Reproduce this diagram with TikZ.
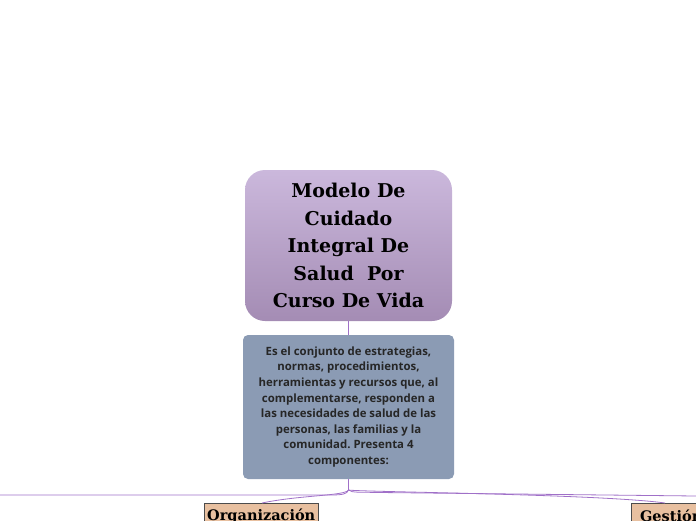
\documentclass[tikz,border=0pt]{standalone}
\usepackage{fontspec}
\setmainfont{DejaVu Serif}
\newfontfamily\bodyfont{Open Sans}
\usetikzlibrary{arrows.meta}
\frenchspacing

\definecolor{lilatop}{RGB}{203,184,220}
\definecolor{lilabottom}{RGB}{164,140,180}
\definecolor{grisazul}{RGB}{139,155,180}
\definecolor{durazno}{RGB}{232,192,160}
\definecolor{ramal}{RGB}{160,112,200}

\tikzset{
  titlebox/.style={rounded corners=20pt, top color=lilatop, bottom color=lilabottom,
    minimum width=207pt, minimum height=151pt, align=center,
    font=\fontsize{19}{27.5}\selectfont\bfseries},
  descbox/.style={rounded corners=5pt, fill=grisazul, minimum width=211pt,
    minimum height=144pt, align=center, text=black!85,
    font=\bodyfont\fontsize{11.4}{15.6}\selectfont\bfseries},
  compbox/.style={draw=black!70, fill=durazno, anchor=north west, minimum height=26pt,
    inner sep=3pt, font=\fontsize{14.5}{18}\selectfont\bfseries},
  rama/.style={draw=ramal, line width=0.8pt}
}

\begin{document}
\begin{tikzpicture}[x=1pt,y=-1pt]
  \useasboundingbox (0,0) rectangle (696,520);

  % central topic
  \node[titlebox] (modelo) at (348.5,245.5)
    {Modelo De\\Cuidado\\Integral De\\Salud~ Por\\Curso De Vida};

  % description
  \node[descbox] (concepto) at (348.5,407)
    {Es el conjunto de estrategias,\\normas, procedimientos,\\herramientas y recursos que, al\\complementarse, responden a\\las necesidades de salud de las\\personas, las familias y la\\comunidad. Presenta 4\\componentes:};

  % components
  \node[compbox, minimum width=113pt] (organizacion) at (204,503) {Organización};
  \node[compbox, minimum width=80pt] (gestion) at (631,503) {Gestión};

  \coordinate (nudo) at (348.5,490);
  \coordinate (izq) at (0,495);
  \coordinate (der) at (696,496);

  \draw[rama] (modelo.south) -- (concepto.north);
  \draw[rama] (concepto.south) -- (nudo);
  \draw[rama] (nudo) .. controls (347,494) and (343,495) .. (330,495) -- (izq);
  \draw[rama] (nudo) .. controls (345,496) and (300,495) .. (organizacion.north -| 262,0);
  \draw[rama] (nudo) .. controls (352,493) and (360,492) .. (380,492.5) -- (der);
  \draw[rama] (nudo) .. controls (360,492) and (600,494) .. (gestion.north -| 665,0);
\end{tikzpicture}
\end{document}
